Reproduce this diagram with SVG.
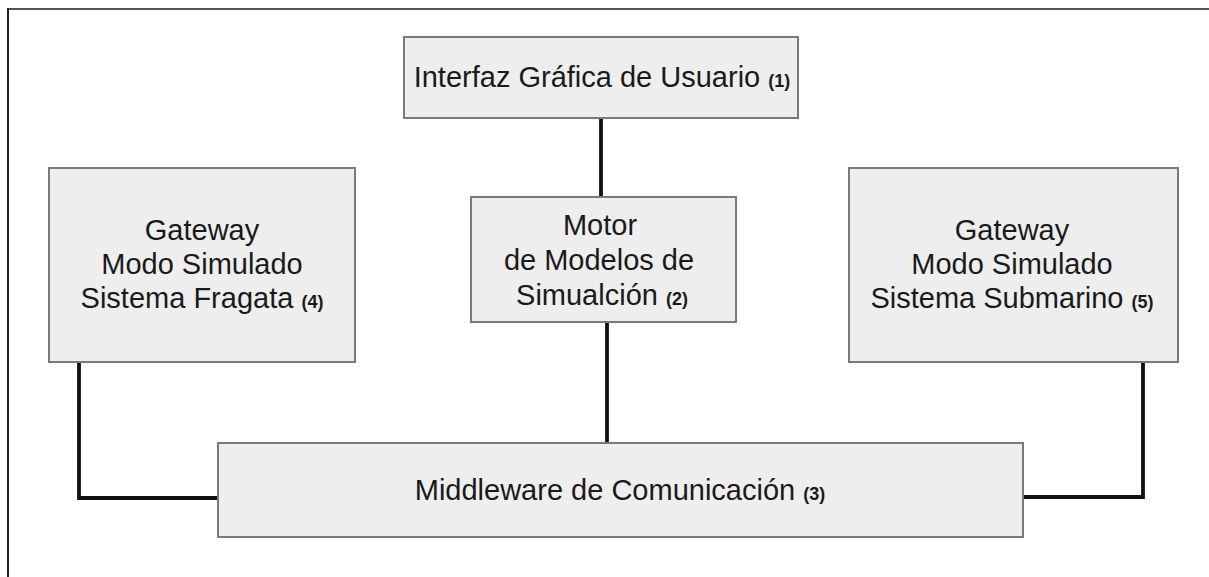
<svg xmlns="http://www.w3.org/2000/svg" width="1209" height="577" viewBox="0 0 1209 577">
<style>
.box{fill:#eeeeee;stroke:#7a7a7a;stroke-width:2}
.t{font-family:"Liberation Sans",Arial,sans-serif;font-size:29px;fill:#1a1a1a;text-anchor:middle}
.n{font-size:18px;font-weight:bold}
.c{fill:none;stroke:#111;stroke-width:3.8;stroke-linejoin:miter}
</style>
<rect width="1209" height="577" fill="#ffffff"/>
<g id="frame">
<line x1="8" y1="9" x2="1209" y2="9" stroke="#555" stroke-width="2"/>
<line x1="8" y1="8" x2="8" y2="577" stroke="#222" stroke-width="2"/>
</g>
<g id="connectors">
<line class="c" x1="601" y1="118" x2="601" y2="197"/>
<line class="c" x1="607" y1="322" x2="607" y2="443"/>
<polyline class="c" points="79,362 79,498 218,498"/>
<polyline class="c" points="1023,497 1143,497 1143,362"/>
</g>
<g id="gui">
<rect class="box" x="404" y="37" width="394" height="81"/>
<text class="t" x="602" y="87">Interfaz Gráfica de Usuario <tspan class="n">(1)</tspan></text>
</g>
<g id="motor">
<rect class="box" x="471" y="197" width="265" height="125"/>
<text class="t" x="600" y="235">Motor</text>
<text class="t" x="599" y="270">de Modelos de</text>
<text class="t" x="602" y="305">Simualción <tspan class="n">(2)</tspan></text>
</g>
<g id="fragata">
<rect class="box" x="49" y="168" width="306" height="194"/>
<text class="t" x="202" y="240">Gateway</text>
<text class="t" x="202" y="274">Modo Simulado</text>
<text class="t" x="202" y="308">Sistema Fragata <tspan class="n">(4)</tspan></text>
</g>
<g id="submarino">
<rect class="box" x="849" y="168" width="329" height="194"/>
<text class="t" x="1012" y="240">Gateway</text>
<text class="t" x="1012" y="274">Modo Simulado</text>
<text class="t" x="1012" y="308">Sistema Submarino <tspan class="n">(5)</tspan></text>
</g>
<g id="middleware">
<rect class="box" x="218" y="443" width="805" height="94"/>
<text class="t" x="620" y="500">Middleware de Comunicación <tspan class="n">(3)</tspan></text>
</g>
</svg>
